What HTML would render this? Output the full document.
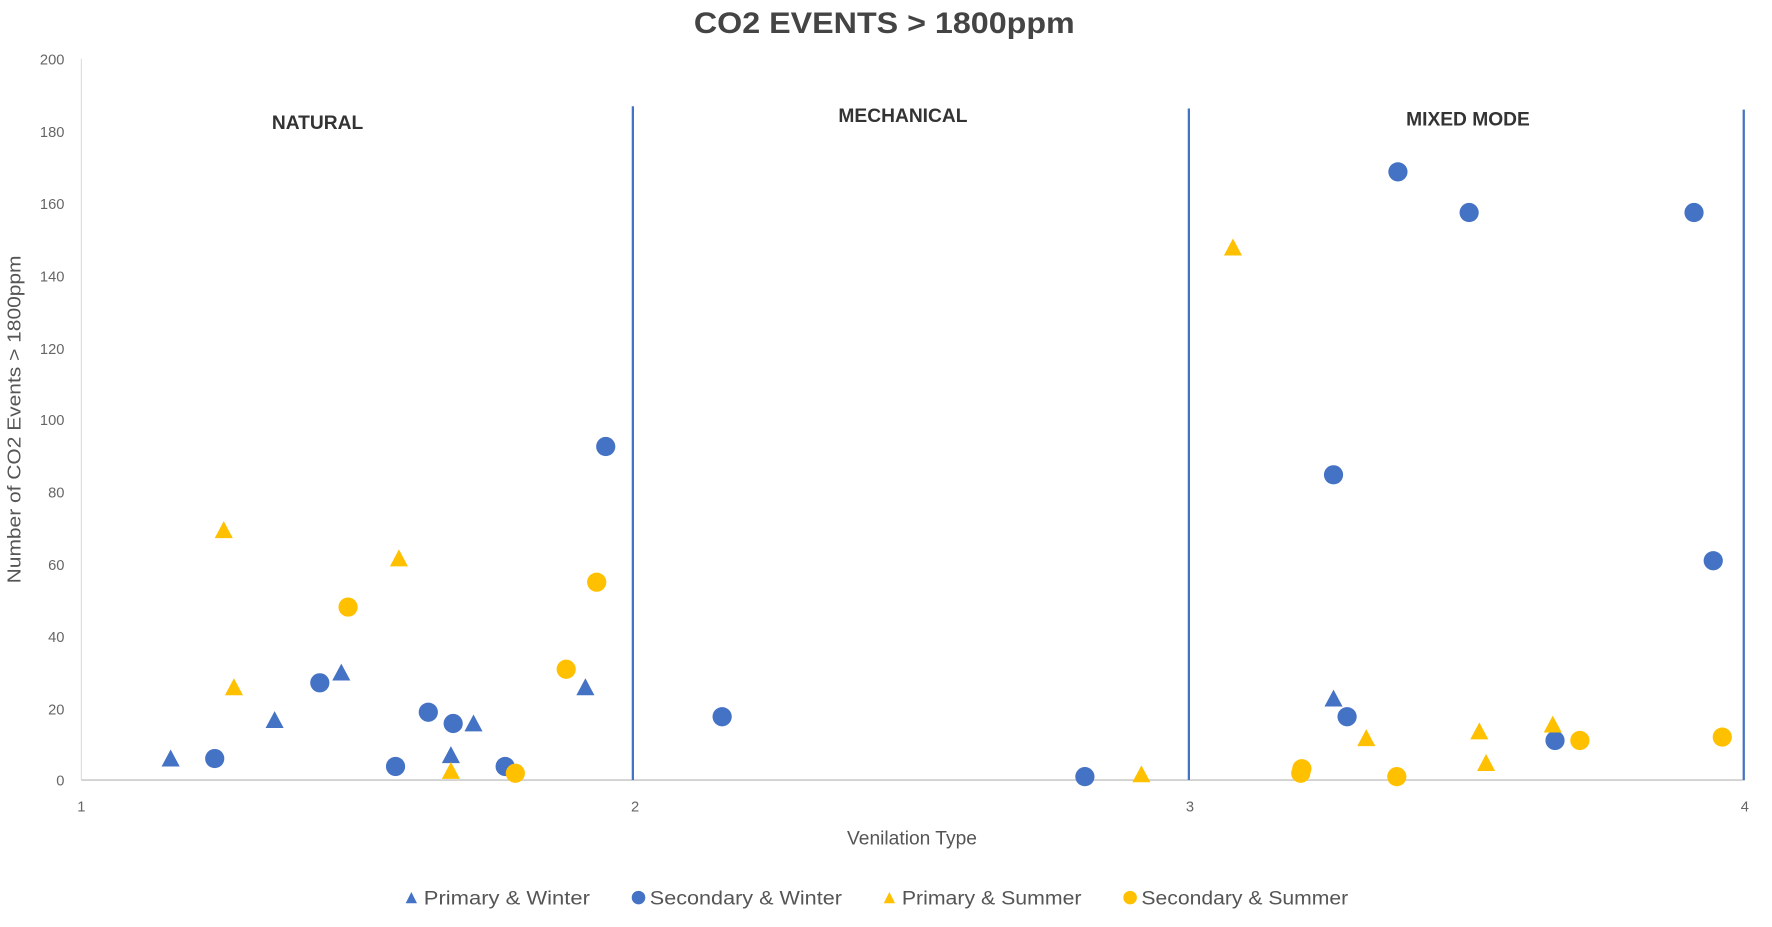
<!DOCTYPE html>
<html><head><style>html,body{margin:0;padding:0;background:#fff;}svg{display:block}</style></head><body>
<svg width="1772" height="927" viewBox="0 0 1568 820" preserveAspectRatio="none" xmlns="http://www.w3.org/2000/svg" font-family="Liberation Sans, sans-serif">
<defs>
<path id="tri" d="M0,-9 L8,6 L-8,6 Z"/>
</defs>
<text x="614" y="29" textLength="337" lengthAdjust="spacingAndGlyphs" font-size="26" font-weight="bold" fill="#444">CO2 EVENTS &gt; 1800ppm</text>
<g font-size="13" fill="#666" text-anchor="end">
<text x="57" y="57">200</text><text x="57" y="121">180</text><text x="57" y="185">160</text><text x="57" y="249">140</text><text x="57" y="313">120</text><text x="57" y="376">100</text><text x="57" y="440">80</text><text x="57" y="504">60</text><text x="57" y="568">40</text><text x="57" y="632">20</text><text x="57" y="695">0</text>
</g>
<g font-size="13" fill="#666" text-anchor="middle">
<text x="72" y="718">1</text><text x="562" y="718">2</text><text x="1053" y="718">3</text><text x="1544" y="718">4</text>
</g>
<text x="807" y="747" text-anchor="middle" font-size="17" fill="#555">Venilation Type</text>
<text transform="translate(18,371) rotate(-90)" text-anchor="middle" font-size="16" textLength="290" lengthAdjust="spacingAndGlyphs" fill="#555">Number of CO2 Events &gt; 1800ppm</text>
<line x1="72" y1="52" x2="72" y2="690" stroke="#ddd"/>
<line x1="72" y1="690" x2="1544" y2="690" stroke="#ccc" stroke-width="1.5"/>
<g stroke="#4472c4" stroke-width="2">
<line x1="560" y1="94" x2="560" y2="690"/><line x1="1052" y1="96" x2="1052" y2="690"/><line x1="1543" y1="97" x2="1543" y2="690"/>
</g>
<g font-size="17" font-weight="bold" fill="#333" text-anchor="middle">
<text x="281" y="114">NATURAL</text><text x="799" y="108">MECHANICAL</text><text x="1299" y="111">MIXED MODE</text>
</g>
<g fill="#4472c4">
<use href="#tri" x="151" y="672"/><use href="#tri" x="243" y="638"/><use href="#tri" x="302" y="596"/><use href="#tri" x="399" y="669"/><use href="#tri" x="419" y="641"/><use href="#tri" x="518" y="609"/><use href="#tri" x="1180" y="619"/>
<circle cx="190" cy="671" r="8.5"/><circle cx="283" cy="604" r="8.5"/><circle cx="350" cy="678" r="8.5"/><circle cx="379" cy="630" r="8.5"/><circle cx="401" cy="640" r="8.5"/><circle cx="447" cy="678" r="8.5"/><circle cx="536" cy="395" r="8.5"/><circle cx="639" cy="634" r="8.5"/><circle cx="960" cy="687" r="8.5"/><circle cx="1237" cy="152" r="8.5"/><circle cx="1300" cy="188" r="8.5"/><circle cx="1499" cy="188" r="8.5"/><circle cx="1180" cy="420" r="8.5"/><circle cx="1192" cy="634" r="8.5"/><circle cx="1376" cy="655" r="8.5"/><circle cx="1516" cy="496" r="8.5"/>
</g>
<g fill="#ffc000">
<use href="#tri" x="198" y="470"/><use href="#tri" x="207" y="609"/><use href="#tri" x="353" y="495"/><use href="#tri" x="399" y="683"/><use href="#tri" x="1091" y="220"/><use href="#tri" x="1010" y="686"/><use href="#tri" x="1209" y="654"/><use href="#tri" x="1309" y="648"/><use href="#tri" x="1315" y="676"/><use href="#tri" x="1374" y="642"/>
<circle cx="308" cy="537" r="8.5"/><circle cx="456" cy="684" r="8.5"/><circle cx="501" cy="592" r="8.5"/><circle cx="528" cy="515" r="8.5"/><circle cx="1151" cy="684" r="8.5"/><circle cx="1152" cy="680" r="8.5"/><circle cx="1236" cy="687" r="8.5"/><circle cx="1398" cy="655" r="8.5"/><circle cx="1524" cy="652" r="8.5"/>
</g>
<g font-size="17" fill="#555">
<path d="M364,789 L369,799 L359,799 Z" fill="#4472c4"/><text x="375" y="800" textLength="147" lengthAdjust="spacingAndGlyphs">Primary &amp; Winter</text>
<circle cx="565" cy="794" r="6" fill="#4472c4"/><text x="575" y="800" textLength="170" lengthAdjust="spacingAndGlyphs">Secondary &amp; Winter</text>
<path d="M787,789 L792,799 L782,799 Z" fill="#ffc000"/><text x="798" y="800" textLength="159" lengthAdjust="spacingAndGlyphs">Primary &amp; Summer</text>
<circle cx="1000" cy="794" r="6" fill="#ffc000"/><text x="1010" y="800" textLength="183" lengthAdjust="spacingAndGlyphs">Secondary &amp; Summer</text>
</g>
</svg>
</body></html>
